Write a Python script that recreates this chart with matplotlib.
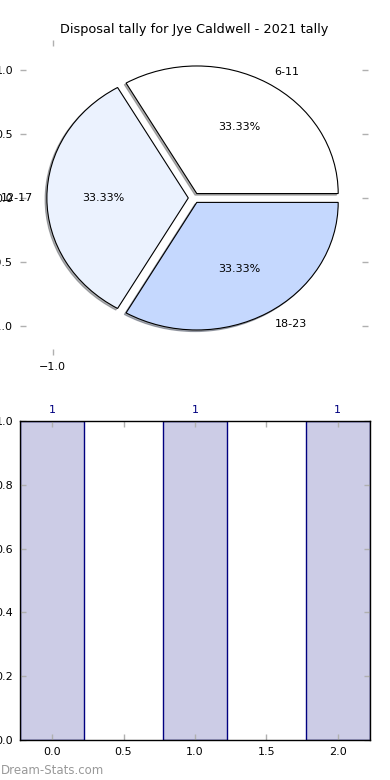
import matplotlib
matplotlib.use("Agg")
import matplotlib.pyplot as plt

# data
age_groups = ["6-11", "12-17", "18-23"]
pie_values = [1, 1, 1]
pie_colors = ["#ffffff", "#ebf2fe", "#c5d8fe"]
bar_x = [0, 1, 2]
bar_values = [1, 1, 1]

fig = plt.figure(figsize=(3.9, 7.8), dpi=100, facecolor="white")

# --- pie ---
ax1 = fig.add_axes([0.0513, 0.545, 0.892, 0.404])
ax1.pie(pie_values, labels=age_groups, colors=pie_colors, explode=[0.04] * 3,
        autopct="%.2f%%", shadow=dict(ox=-0.009, oy=-0.009, shade=0.6),
        startangle=0,
        wedgeprops=dict(edgecolor="black", linewidth=0.8),
        textprops=dict(fontsize=8))
ax1.set_aspect("auto")
ax1.set_xlim(-1.23, 1.23)
ax1.set_ylim(-1.23, 1.24)
ax1.set_xticks([-1.0])
ax1.set_yticks([-1.0, -0.5, 0.0, 0.5, 1.0])
ax1.set_xticklabels(["\u22121.0"])
ax1.set_yticklabels(["\u22121.0", "\u22120.5", "0.0", "0.5", "1.0"])
ax1.tick_params(direction="in", length=4, width=1, color="#b0b0b0",
                labelsize=8, top=True, right=True, pad=5)
ax1.set_frame_on(False)
fig.text(194 / 390, 1 - 30 / 780, "Disposal tally for Jye Caldwell - 2021 tally",
         ha="center", va="center", fontsize=9.3)

# --- bar ---
ax2 = fig.add_axes([0.0513, 0.0513, 0.897, 0.409])
bars = ax2.bar(bar_x, bar_values, width=0.45, color=(0.8, 0.8, 0.9),
               edgecolor="navy", linewidth=1)
for b, v in zip(bars, bar_values):
    ax2.text(b.get_x() + b.get_width() / 2, v + 0.02, str(v), color="navy",
             ha="center", va="bottom", fontsize=8)
ax2.set_xlim(-0.225, 2.225)
ax2.set_ylim(0, 1)
ax2.set_xticks([0.0, 0.5, 1.0, 1.5, 2.0])
ax2.set_yticks([0.0, 0.2, 0.4, 0.6, 0.8, 1.0])
ax2.tick_params(direction="in", length=4, width=1, color="#b0b0b0",
                labelsize=8, top=True, right=True, pad=5)
for s in ax2.spines.values():
    s.set_color("black")
    s.set_linewidth(1)

fig.text(0.003, 1 - 770 / 780, "Dream-Stats.com", color="#999999",
         fontsize=8.5, ha="left", va="center")

fig.savefig("out.png", dpi=100)
